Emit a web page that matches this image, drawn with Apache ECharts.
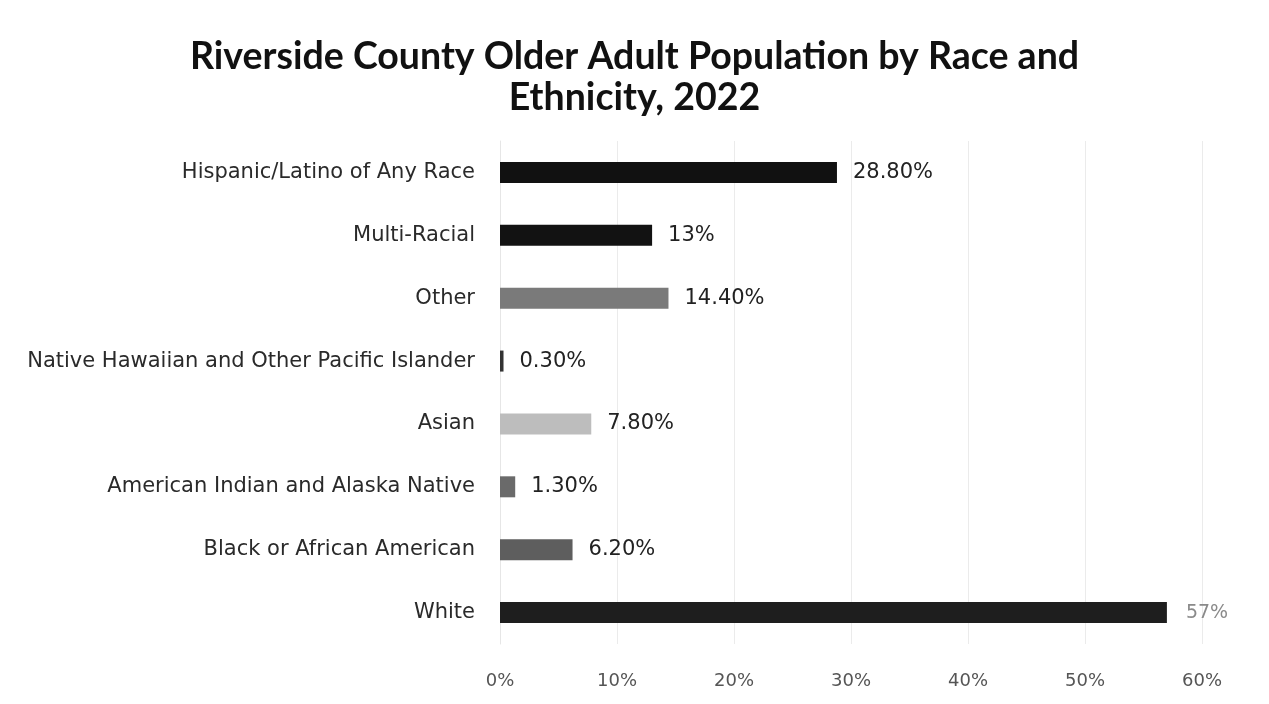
<!DOCTYPE html>
<html>
<head>
<meta charset="utf-8">
<script src="https://cdn.jsdelivr.net/npm/echarts@6/dist/echarts.min.js"></script>
<style>
  html, body { margin: 0; padding: 0; background: #fff; }
  #chart { width: 1269px; height: 704px; }
</style>
</head>
<body>
<div id="chart"></div>
<script>
// categories listed top to bottom
var categories = [
    'Hispanic/Latino of Any Race',
    'Multi-Racial',
    'Other',
    'Native Hawaiian and Other Pacific Islander',
    'Asian',
    'American Indian and Alaska Native',
    'Black or African American',
    'White'
];
var values = [28.8, 13, 14.4, 0.3, 7.8, 1.3, 6.2, 57];
var valueLabels = ['28.80%', '13%', '14.40%', '0.30%', '7.80%', '1.30%', '6.20%', '57%'];
var xTicks = [0, 10, 20, 30, 40, 50, 60];

var barColors = ['#111111', '#121212', '#7a7a7a', '#333333', '#bdbdbd', '#6a6a6a', '#5e5e5e', '#1e1e1e'];

var chart = echarts.init(document.getElementById('chart'));

var seriesData = values.map(function (v, i) {
    return {
        value: v,
        itemStyle: { color: barColors[i] },
        label: i === 7 ? { color: '#8a8a8a', fontSize: 19, distance: 19 } : {}
    };
});

var option = {
    backgroundColor: '#fff',
    title: {
        text: 'Riverside County Older Adult Population by Race and\nEthnicity, 2022',
        left: 'center',
        top: 31,
        textStyle: {
            fontFamily: 'Lato',
            fontWeight: 'bold',
            fontSize: 37.5,
            lineHeight: 41,
            color: '#111'
        }
    },
    grid: {
        left: 500,
        right: 67,
        top: 141,
        bottom: 60
    },
    xAxis: {
        type: 'value',
        min: 0,
        max: 60,
        interval: 10,
        axisLine: { show: false },
        axisTick: { show: false },
        splitLine: { lineStyle: { color: '#ebebeb', width: 1 } },
        axisLabel: {
            margin: 28,
            fontFamily: 'DejaVu Sans',
            fontSize: 18,
            color: '#555',
            formatter: function (v) { return xTicks.indexOf(v) >= 0 ? v + '%' : ''; }
        }
    },
    yAxis: {
        type: 'category',
        data: categories,
        inverse: true,
        axisLine: { show: true, lineStyle: { color: '#e6e6e6' } },
        axisTick: { show: false },
        axisLabel: {
            margin: 25,
            fontFamily: 'DejaVu Sans',
            fontSize: 21,
            color: '#2a2a2a'
        }
    },
    series: [{
        type: 'bar',
        data: seriesData,
        barWidth: 21,
        label: {
            show: true,
            position: 'right',
            distance: 16,
            fontFamily: 'DejaVu Sans',
            fontSize: 21,
            color: '#222',
            formatter: function (p) { return valueLabels[p.dataIndex]; }
        }
    }]
};

chart.setOption(option);
</script>
</body>
</html>
